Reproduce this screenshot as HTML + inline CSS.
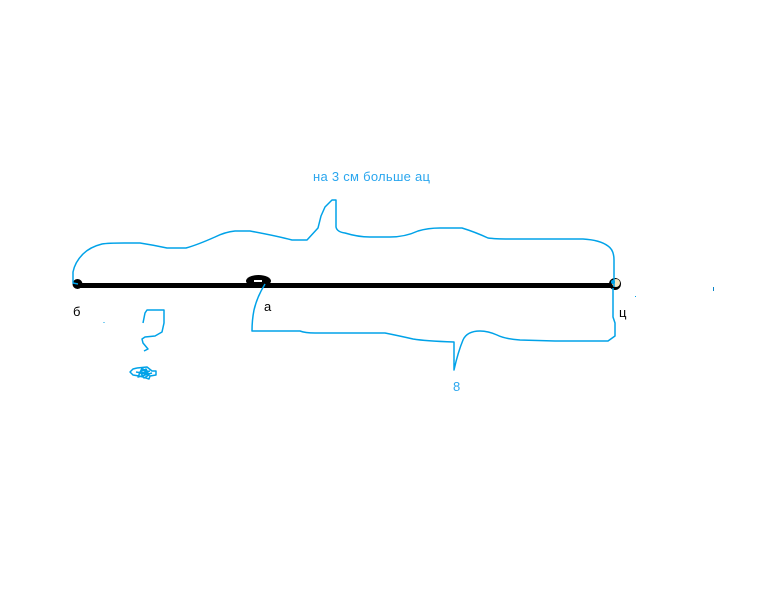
<!DOCTYPE html>
<html lang="ru">
<head>
<meta charset="utf-8">
<title>Схема</title>
<style>
html,body{margin:0;padding:0;background:#fff;width:768px;height:614px;overflow:hidden}
svg{display:block}
text{font-family:"Liberation Sans",sans-serif;font-size:13px}
.b{fill:none;stroke:#00a2e8;stroke-width:1.5;stroke-linejoin:round}
</style>
</head>
<body>
<svg width="768" height="614" viewBox="0 0 768 614" xmlns="http://www.w3.org/2000/svg">
<rect width="768" height="614" fill="#fff"/>
<!-- main segment -->
<rect x="77" y="283" width="536" height="5" fill="#000"/>
<circle cx="77.5" cy="284" r="5" fill="#000"/>
<ellipse cx="258.500" cy="281" rx="12.500" ry="6" fill="#000"/>
<rect x="254" y="280" width="8" height="2" fill="#fff"/>
<circle cx="615" cy="284" r="6" fill="#000"/>
<circle cx="616" cy="283" r="4" fill="#f3e6c0"/>
<!-- upper brace -->
<path class="b" d="M78 284L73 283L73 272Q75 262 83 254Q90 247 102 244Q108 243 124 243L140 243Q153 245 167 248L186 248Q197 245 215 237Q225 232 235 231L250 231Q277 236 292 240L307 240L318 228L321 216L325 207L332 200L336 200L336 227Q337 232 345 233Q358 237 370 237L390 237Q405 237 418 231Q428 228 440 228L462 228Q475 232 488 238Q495 239 510 239L583 239Q600 240 608 246Q614 250 614 260L614 287"/>
<circle cx="613" cy="282" r="2" fill="#00a2e8"/>
<!-- lower brace -->
<path class="b" d="M265 284Q257 297 254 310Q252 320 252 331L300 331Q305 333 315 333L385 333Q400 336 413 339Q425 341 454 342L454 370Q458 352 463 340Q467 331 480 331Q488 331 497 335Q505 339 520 340L555 341L608 341L615 336L615 323L613 317L613 288"/>
<!-- question mark -->
<path class="b" d="M143 323L145 313L147 310L164 310L164 323L162 332L155 336L145 337L142 339L143 343L148 349L144 351"/>
<!-- scribble -->
<path class="b" d="M137 368L147 367L152 371L156 371L156 375L150 376L149 379L143 377L139 376L133 375L130 372L133 369L137 368M139 374L143 369L147 372L143 376L140 372L146 369L149 375L144 378L141 373L150 371M136 372L148 374L142 368L138 377L152 373"/>
<!-- specks -->
<rect x="713" y="287" width="1" height="4" fill="#0a84c8"/>
<rect x="103" y="322" width="2" height="1" fill="#7fd0f3"/>
<rect x="635" y="296" width="1" height="1" fill="#00a2e8"/>
<!-- labels -->
<text x="313" y="181" fill="#2aa6ee" textLength="117">на 3 см больше ац</text>
<text x="73" y="316" fill="#000">б</text>
<text x="264" y="311" fill="#000">а</text>
<text x="619" y="317" fill="#000">ц</text>
<text x="453" y="391" fill="#2aa6ee">8</text>
</svg>
</body>
</html>
